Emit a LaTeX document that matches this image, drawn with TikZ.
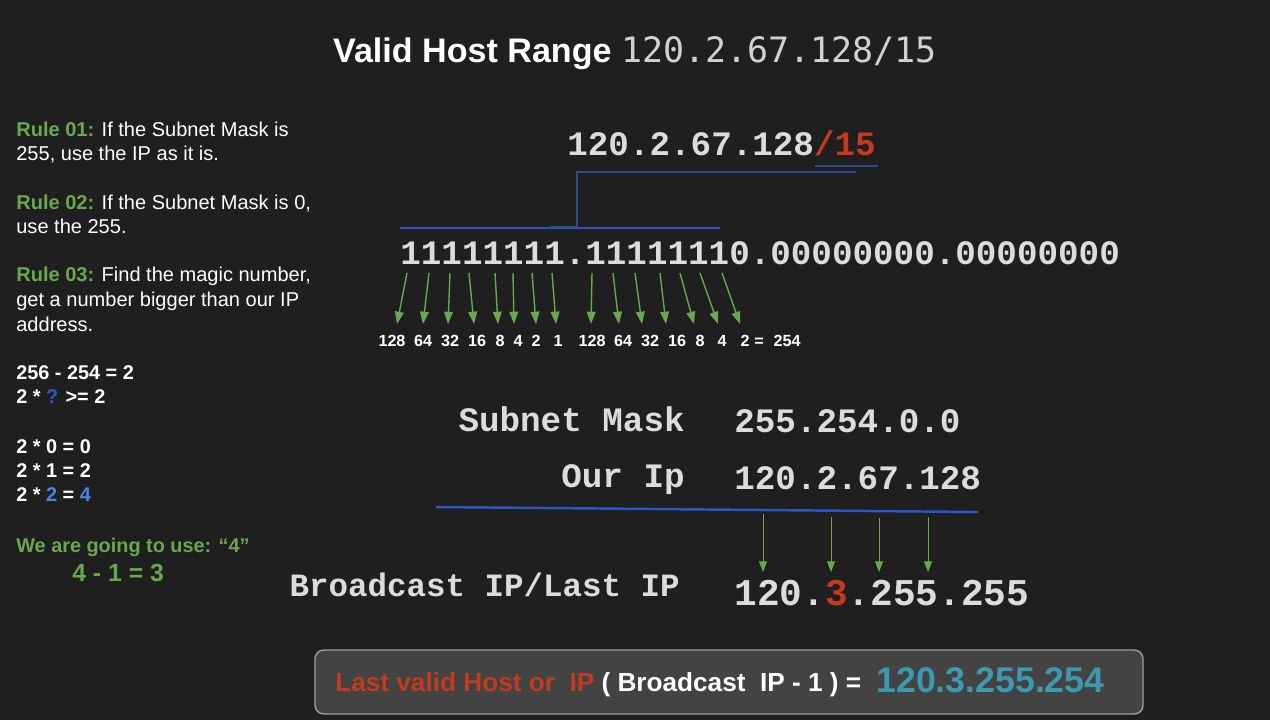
\documentclass[tikz,border=0pt]{standalone}
\usepackage{fontspec}
\setmainfont{Liberation Sans}
\newfontfamily\codefont{Liberation Mono}
\newfontfamily\titlecode{DejaVu Sans Mono}
\usetikzlibrary{arrows.meta}
\definecolor{bgdark}{HTML}{1F1F1F}
\definecolor{codegray}{HTML}{DCDCDC}
\definecolor{rulegreen}{HTML}{6AA84F}
\definecolor{slashred}{HTML}{C23A1F}
\definecolor{navyline}{HTML}{2E4A8C}
\definecolor{brightblue}{HTML}{2D55C8}
\definecolor{qblue}{HTML}{3355CC}
\definecolor{lightblue}{HTML}{4A86E8}
\definecolor{tealnum}{HTML}{3D9AAE}
\definecolor{boxgray}{HTML}{434343}
\tikzset{
    ruletext/.style={anchor=base west, inner sep=0pt, text=white, font=\fontsize{11.4}{13}\selectfont},
    calctext/.style={ruletext, font=\fontsize{11.3}{13}\selectfont\bfseries},
    codetext/.style={inner sep=0pt, text=codegray, font=\fontsize{19.5}{22}\selectfont\codefont\bfseries},
    weight/.style={anchor=base, inner sep=0pt, text=white, font=\fontsize{9.2}{11}\selectfont\bfseries},
    bitarrow/.style={-{Triangle[length=7pt,width=5pt]}, line width=0.8pt, draw=rulegreen},
    digitarrow/.style={-{Triangle[length=6pt,width=4.5pt]}, line width=0.5pt, draw=rulegreen},
    resultbox/.style={draw=gray!75, line width=0.8pt, fill=boxgray, rounded corners=5pt}
}
\begin{document}
\begin{tikzpicture}[x=0.02cm, y=-0.02cm]
\useasboundingbox (0,0) rectangle (1270,720);
\fill[bgdark] (0,0) rectangle (1270,720);

% Title
\node[anchor=base, inner sep=0pt, text=white, font=\fontsize{19.4}{22}\selectfont\bfseries] (title) at (635,62)
    {Valid Host Range {\titlecode\mdseries\fontsize{19.9}{22}\selectfont\color{codegray!95!black} 120.2.67.128/15}};

% Rules
\node[ruletext] (r1a) at (16,136) {{\bfseries\color{rulegreen}Rule 01:} If the Subnet Mask is};
\node[ruletext] (r1b) at (16,160) {255, use the IP as it is.};
\node[ruletext] (r2a) at (16,209) {{\bfseries\color{rulegreen}Rule 02:} If the Subnet Mask is 0,};
\node[ruletext] (r2b) at (16,233) {use the 255.};
\node[ruletext] (r3a) at (16,281) {{\bfseries\color{rulegreen}Rule 03:} Find the magic number,};
\node[ruletext] (r3b) at (16,306) {get a number bigger than our IP};
\node[ruletext] (r3c) at (16,331) {address.};

% Magic number
\node[calctext] (c1) at (16,379) {256 - 254 = 2};
\node[calctext] (c2) at (16,403) {2 * {\color{qblue}?} >= 2};
\node[calctext] (c3) at (16,453) {2 * 0 = 0};
\node[calctext] (c4) at (16,477) {2 * 1 = 2};
\node[calctext] (c5) at (16,501) {2 * {\color{lightblue}2} = {\color{lightblue}4}};
\node[calctext, text=rulegreen] (use) at (16,552) {We are going to use: “4”};
\node[calctext, text=rulegreen, font=\fontsize{14.1}{16}\selectfont\bfseries] (minus) at (72,581) {4 - 1 = 3};

% IP with prefix
\node[codetext, anchor=base west] (ip) at (567,155) {120.2.67.128{\color{slashred}/15}};
\draw[navyline, line width=1.2pt] (815,166) -- (878,166);
\draw[navyline, line width=1.2pt] (856,172) -- (577,172) -- (577,227);
\draw[brightblue, line width=1.4pt] (400,228) -- (720,228);
\draw[navyline, line width=1.4pt] (550,227) -- (577,227);

% Binary mask
\node[codetext, anchor=base west] (binary) at (400,264) {11111111.11111110.00000000.00000000};

% Bit values
\foreach \sx/\ex [count=\i] in {407/397, 429/423, 450/448, 469/474, 495/498, 513/514, 532/536, 552/556,
                                592/591, 613/619, 635/642, 660/666, 680/694, 700/718, 722/740} {
    \coordinate (bit\i) at (\sx,273);
    \coordinate (tip\i) at (\ex,324);
    \draw[bitarrow] (bit\i) -- (tip\i);
}
\foreach \wx/\wv [count=\i] in {392/128, 423/64, 450/32, 477/16, 500/8, 518/4, 536/2, 558/1,
                                592/128, 623/64, 650/32, 677/16, 700/8, 722/4, 745/2} {
    \node[weight] (w\i) at (\wx,346) {\wv};
}
\node[weight] (eq) at (759,346) {=};
\node[weight] (sum) at (787,346) {254};

% Mask and IP
\node[codetext, anchor=base east] (masklbl) at (685,431) {Subnet Mask};
\node[codetext, anchor=base west] (mask) at (734,432) {255.254.0.0};
\node[codetext, anchor=base east] (iplbl) at (685,487) {Our Ip};
\node[codetext, anchor=base west] (ourip) at (734,489) {120.2.67.128};
\draw[brightblue, line width=1.4pt] (436,507) -- (978,512);

% Broadcast
\foreach \ax/\ay [count=\i] in {763/514, 831/517, 879/518, 928/517} {
    \coordinate (from\i) at (\ax,\ay);
    \coordinate (to\i) at (\ax,572);
    \draw[digitarrow] (from\i) -- (to\i);
}
\node[codetext, anchor=base east, font=\fontsize{18.5}{21}\selectfont\codefont\bfseries] (bclbl) at (680,596) {Broadcast IP/Last IP};
\node[codetext, anchor=base west, font=\fontsize{21.5}{24}\selectfont\codefont\bfseries] (bcast) at (734,605) {120.{\color{slashred}3}.255.255};

% Result
\draw[resultbox] (315,650) rectangle (1143,714);
\node[anchor=base west, inner sep=0pt, font=\fontsize{14.9}{17}\selectfont\bfseries, text=slashred] (last) at (335,691)
    {Last valid Host or \ IP {\color{white}( Broadcast \ IP - 1 ) =}};
\node[anchor=base west, inner sep=0pt, font=\fontsize{20.3}{23}\selectfont\bfseries, text=tealnum] (answer) at (876,692) {120.3.255.254};
\end{tikzpicture}
\end{document}
